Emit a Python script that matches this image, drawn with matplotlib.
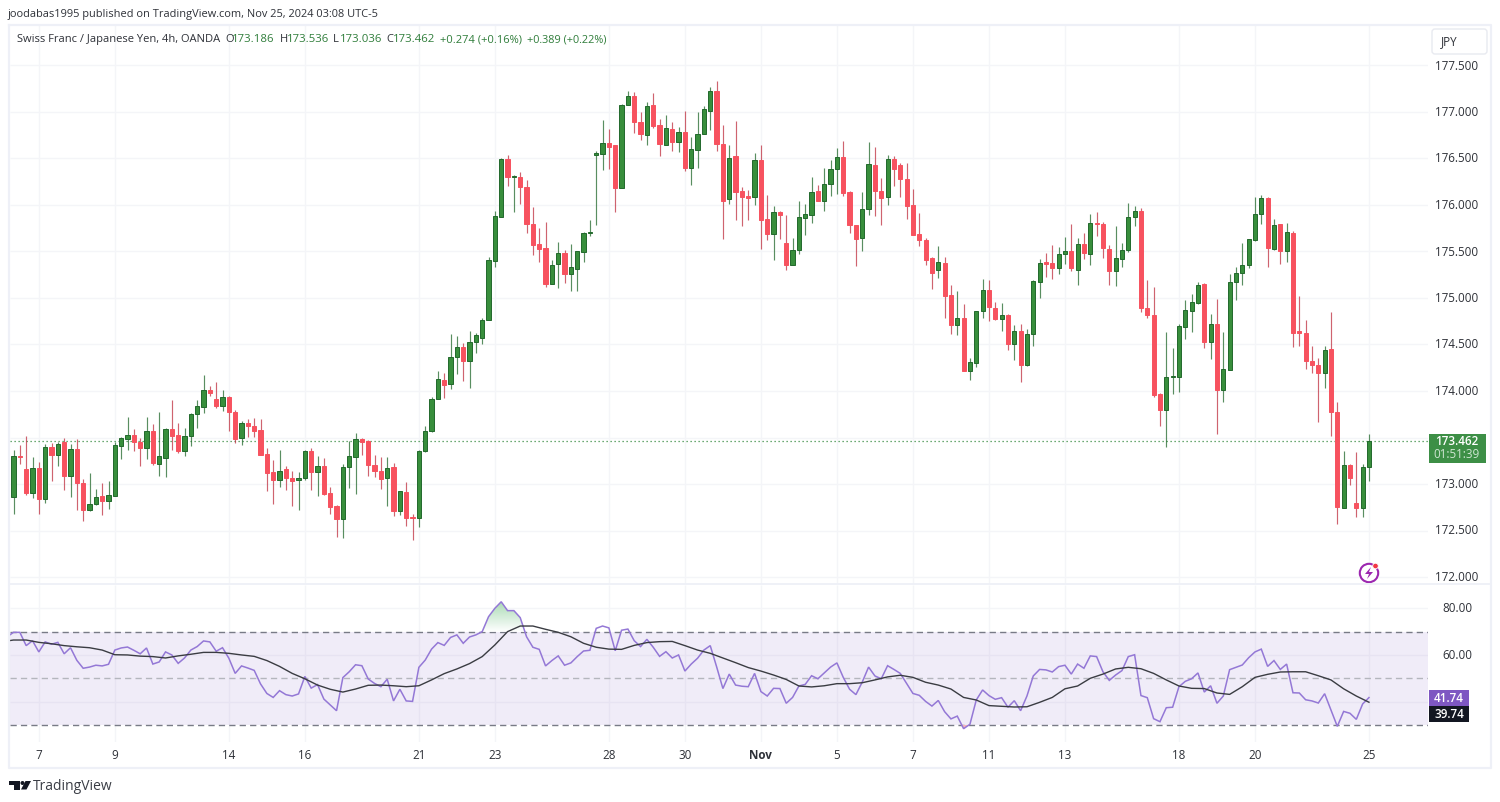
import numpy as np
import matplotlib
matplotlib.use("Agg")
import matplotlib.pyplot as plt
from matplotlib.patches import Polygon, FancyBboxPatch, Rectangle, Circle
from matplotlib.colors import LinearSegmentedColormap

# ---------- data ----------
opens = [
172.86,173.30,173.16,172.90,173.17,172.84,173.40,173.31,173.45,173.09,
173.38,173.01,172.72,172.79,172.87,172.82,172.87,173.41,173.48,173.53,
173.45,173.39,173.57,173.22,173.28,173.59,173.53,173.35,173.52,173.75,
173.83,174.01,173.91,173.84,173.94,173.77,173.49,173.66,173.62,173.58,
173.32,173.13,173.04,173.16,173.06,173.04,173.06,173.35,173.13,173.19,
172.90,172.76,172.62,173.18,173.29,173.48,173.46,173.20,173.14,173.06,
173.18,172.71,172.91,172.64,172.63,173.35,173.57,173.91,174.12,174.08,
174.37,174.47,174.32,174.53,174.57,174.76,175.40,175.87,176.49,176.30,
176.30,176.19,175.80,175.58,175.54,175.15,175.37,175.48,175.26,175.31,
175.49,175.70,176.54,176.55,176.67,176.64,176.18,177.07,177.17,176.89,
176.75,177.07,176.86,176.65,176.82,176.68,176.78,176.40,176.59,176.76,
177.01,177.23,176.66,176.06,176.53,176.15,176.10,176.09,176.48,175.85,
175.69,175.92,175.59,175.36,175.52,175.86,175.89,176.15,176.04,176.23,
176.39,176.52,176.14,175.78,175.64,175.96,176.43,176.15,176.09,176.49,
176.43,176.28,176.00,175.69,175.62,175.43,175.30,175.38,175.03,174.71,
174.79,174.22,174.30,174.86,175.09,174.89,174.77,174.82,174.50,174.65,
174.28,174.61,175.17,175.39,175.38,175.32,175.47,175.51,175.30,175.58,
175.47,175.81,175.80,175.53,175.29,175.42,175.52,175.87,175.94,174.89,
174.82,173.97,173.80,174.15,174.15,174.69,174.86,174.95,175.15,174.53,
174.72,174.01,174.23,175.17,175.27,175.36,175.62,175.90,176.07,175.53,
175.80,175.50,175.70,174.64,174.62,174.32,174.28,174.19,174.45,173.77,
172.74,173.20,172.80,172.74,173.186]
closes = [
173.30,173.29,172.90,173.17,172.84,173.40,173.31,173.43,173.09,173.38,
173.01,172.72,172.79,172.86,172.82,172.88,173.42,173.49,173.53,173.45,
173.39,173.57,173.23,173.30,173.59,173.52,173.35,173.52,173.75,173.84,
174.01,173.98,173.84,173.94,173.77,173.48,173.66,173.62,173.57,173.31,
173.12,173.04,173.14,173.07,173.03,173.06,173.35,173.13,173.19,172.89,
172.75,172.62,173.18,173.30,173.48,173.45,173.20,173.14,173.05,173.17,
172.71,172.93,172.63,172.63,173.36,173.57,173.91,174.13,174.06,174.37,
174.47,174.32,174.53,174.60,174.76,175.41,175.88,176.49,176.30,176.31,
176.19,175.80,175.57,175.53,175.15,175.36,175.48,175.26,175.33,175.50,
175.70,175.71,176.56,176.67,176.62,176.18,177.08,177.17,176.89,176.76,
177.06,176.85,176.66,176.83,176.68,176.78,176.40,176.60,176.76,177.03,
177.23,176.66,176.04,176.51,176.14,176.09,176.07,176.48,175.84,175.69,
175.92,175.89,175.36,175.52,175.87,175.90,176.14,176.04,176.23,176.39,
176.52,176.13,175.78,175.63,175.96,176.44,176.15,176.08,176.49,176.39,
176.28,175.99,175.68,175.62,175.41,175.27,175.39,175.02,174.71,174.78,
174.22,174.31,174.86,175.09,174.90,174.77,174.82,174.51,174.65,174.28,
174.61,175.18,175.38,175.37,175.32,175.47,175.51,175.32,175.58,175.48,
175.81,175.80,175.54,175.29,175.43,175.52,175.87,175.94,174.89,174.82,
173.96,173.80,174.15,174.16,174.70,174.87,174.96,175.14,174.53,174.72,
174.01,174.24,175.17,175.27,175.36,175.63,175.90,176.07,175.54,175.78,
175.51,175.71,174.62,174.62,174.32,174.28,174.19,174.44,173.77,172.75,
173.20,173.06,172.74,173.18,173.462]
highs = [
173.37,173.42,173.52,173.29,173.24,173.43,173.44,173.45,173.50,173.43,
173.48,173.05,173.12,172.95,173.01,173.03,173.45,173.51,173.72,173.59,
173.49,173.72,173.65,173.77,173.60,173.90,173.66,173.60,173.76,173.90,
174.17,174.05,174.10,174.01,173.95,173.80,173.68,173.70,173.71,173.70,
173.39,173.26,173.37,173.19,173.14,173.13,173.37,173.39,173.30,173.28,
172.97,172.77,173.21,173.46,173.55,173.49,173.47,173.31,173.29,173.29,
173.23,172.93,173.02,172.68,173.37,173.62,173.94,174.21,174.19,174.61,
174.59,174.52,174.65,174.62,174.79,175.44,175.93,176.51,176.54,176.32,
176.35,176.27,175.98,175.75,175.82,175.41,175.60,175.52,175.58,175.51,
175.71,175.84,176.58,176.91,176.82,176.65,177.09,177.23,177.22,177.00,
177.11,177.20,176.92,176.97,176.89,176.84,177.01,176.73,177.00,177.06,
177.27,177.33,176.86,176.65,176.90,176.19,176.16,176.56,176.64,176.11,
175.99,175.94,175.89,175.65,176.04,176.01,176.30,176.21,176.40,176.48,
176.61,176.69,176.15,175.78,176.14,176.68,176.62,176.29,176.54,176.53,
176.45,176.45,176.17,175.91,175.65,175.44,175.56,175.44,175.14,175.07,
174.94,174.36,174.86,175.20,175.19,174.96,174.95,174.83,174.71,174.72,
174.67,175.19,175.42,175.48,175.57,175.55,175.66,175.80,175.64,175.70,
175.90,175.92,175.82,175.57,175.77,175.59,176.02,175.99,175.97,175.19,
175.12,173.98,174.63,174.46,174.72,174.98,175.04,175.17,175.16,174.83,
174.99,174.63,175.26,175.33,175.59,175.63,176.09,176.11,176.09,175.85,
175.80,175.81,175.72,175.02,174.76,174.48,174.35,174.48,174.85,173.88,
173.35,173.22,173.34,173.21,173.536]
lows = [
172.68,173.21,172.88,172.85,172.68,172.80,173.03,173.19,172.94,172.86,
172.72,172.60,172.71,172.77,172.67,172.73,172.87,173.27,173.37,173.36,
173.19,173.27,173.20,173.09,173.08,173.37,173.33,173.30,173.41,173.60,
173.76,173.95,173.82,173.78,173.57,173.44,173.42,173.51,173.51,173.31,
172.92,172.79,172.97,172.94,172.76,172.72,173.04,172.94,172.87,172.88,
172.68,172.43,172.42,172.96,172.89,173.31,173.09,173.08,172.95,172.76,
172.66,172.67,172.55,172.40,172.54,173.34,173.56,173.91,173.92,174.02,
174.18,174.11,174.03,174.41,174.51,174.76,175.33,175.87,176.20,175.92,
176.01,175.70,175.46,175.39,175.12,175.15,175.11,175.16,175.08,175.07,
175.39,175.67,175.79,176.38,176.39,175.92,176.18,177.07,176.77,176.70,
176.64,176.83,176.53,176.64,176.58,176.57,176.37,176.21,176.40,176.76,
176.81,176.58,175.63,176.01,175.84,175.77,175.84,176.00,175.53,175.62,
175.41,175.63,175.30,175.35,175.47,175.68,175.81,176.04,175.93,176.10,
176.12,176.10,175.70,175.34,175.50,175.89,175.88,175.78,176.00,176.20,
176.09,175.85,175.68,175.56,175.36,175.10,175.22,174.79,174.61,174.60,
174.21,174.12,174.26,174.79,174.75,174.76,174.65,174.44,174.33,174.10,
174.27,174.48,175.00,175.23,175.20,175.26,175.37,175.29,175.14,175.42,
175.35,175.67,175.43,175.14,175.13,175.33,175.49,175.77,174.85,174.79,
173.94,173.62,173.40,173.97,173.99,174.56,174.63,174.94,174.46,174.34,
173.54,173.88,174.23,174.98,175.14,175.32,175.61,175.80,175.33,175.52,
175.37,175.39,174.47,174.48,174.24,174.19,173.67,174.03,173.52,172.57,
172.74,172.99,172.64,172.65,173.036]

rsi_before_first_bar = 67.8
rsi = [
69.7,69.7,64.0,66.1,61.3,65.6,64.6,65.4,60.5,63.1,
57.7,54.3,54.8,55.6,55.3,56.0,62.1,63.0,63.4,62.0,
60.5,63.0,56.1,57.0,61.3,60.0,56.4,58.7,62.1,63.6,
66.0,65.6,61.6,63.1,58.6,52.1,55.3,54.4,53.4,47.6,
43.5,41.8,44.7,43.0,42.4,43.3,50.8,45.8,47.3,41.1,
38.6,36.1,50.3,52.8,55.8,55.4,49.7,47.8,46.4,49.6,
40.3,45.3,40.3,40.1,54.7,57.8,62.5,65.3,64.1,67.5,
68.6,65.0,67.7,68.6,70.0,76.4,80.0,82.8,79.0,79.0,
76.0,67.8,63.3,62.4,55.3,57.6,59.6,55.6,56.6,59.3,
61.7,62.0,71.4,72.4,71.6,61.8,70.6,71.1,66.1,63.6,
66.7,63.3,59.4,61.4,58.7,60.0,53.1,56.1,58.6,62.1,
64.0,55.0,45.6,51.8,47.1,46.6,46.4,52.1,44.3,42.4,
45.7,45.6,39.3,41.8,46.7,47.4,51.1,49.8,52.3,54.8,
56.6,50.4,45.3,43.0,48.4,54.8,51.0,49.8,55.4,53.8,
52.1,47.8,43.5,42.7,40.1,38.1,40.5,35.7,32.6,33.8,
28.4,30.3,40.7,45.0,42.6,41.0,41.7,37.6,40.4,36.1,
42.4,51.0,53.8,53.6,52.7,55.0,55.6,51.8,56.1,54.3,
59.6,59.3,52.8,49.1,51.4,53.3,59.3,60.1,42.6,41.7,
32.7,31.4,37.4,37.6,46.4,48.7,49.8,52.3,44.1,46.8,
39.3,42.4,53.7,54.7,55.7,58.8,61.3,62.5,55.1,57.6,
53.8,56.1,43.8,43.7,40.8,40.3,39.4,43.4,36.4,29.4,
35.8,35.0,32.4,39.0,41.74]
# RSI moving average, read every second bar (first reading is just left of bar 0)
ma_bars = [-1] + list(range(0, 215, 2))
rsi_ma = [66.0,
66.4,66.4,65.4,64.8,64.0,63.5,63.1,62.1,60.1,60.0,
59.5,59.3,58.7,59.6,60.3,61.1,61.1,60.7,60.0,59.4,
57.6,55.1,52.1,49.8,47.1,45.3,44.1,45.4,47.0,47.1,
46.8,46.4,46.8,49.3,52.0,54.0,56.3,59.3,64.3,70.0,
72.4,72.4,71.0,69.7,67.8,65.0,63.3,62.5,62.4,64.1,
65.3,65.7,65.8,64.0,62.1,60.7,58.7,56.7,54.6,53.1,
51.4,49.5,46.7,46.3,46.8,47.7,47.7,48.1,49.3,50.6,
51.3,50.4,48.3,47.1,45.4,41.8,40.7,38.3,38.0,37.7,
37.8,39.7,41.8,45.5,46.7,50.0,51.8,54.0,54.7,54.1,
52.1,49.3,46.7,45.7,45.6,43.7,43.1,46.4,50.4,51.7,
52.7,52.8,52.8,51.1,49.3,45.5,42.4,39.74]

date_bars = [4,16,34,46,64,76,94,106,118,130,142,154,166,184,196,214]
date_labels = ["7","9","14","16","21","23","28","30","Nov","5","7","11","13","18","20","25"]
price_ticks = [172.0,172.5,173.0,173.5,174.0,174.5,175.0,175.5,176.0,176.5,177.0,177.5]
covered_price_label = 173.5   # hidden behind the last-price tag in the reference
rsi_labels = [80,60]
rsi_grid = [80,60,40]
last_price = 173.462
last_rsi = 41.74
last_ma = 39.74
countdown = "01:51:39"

assert len(opens) == len(closes) == len(highs) == len(lows) == len(rsi)
assert len(ma_bars) == len(rsi_ma), (len(ma_bars), len(rsi_ma))

# ---------- style ----------
W, H = 1500, 802
plt.rcParams["font.family"] = ["Open Sans", "DejaVu Sans"]
UP, UP_EDGE, DOWN, DOWN_WICK = "#388e3c", "#22692c", "#f7525f", "#bf2f3f"
GRID = "#f4f5f8"
BORDER = "#eef0f7"
TXT = "#2e3138"
GREEN_TXT = "#2f7d3a"

def rect(l, t, r, b):
    return [l / W, 1 - b / H, (r - l) / W, (b - t) / H]

fig = plt.figure(figsize=(W / 100, H / 100), dpi=100, facecolor="white")
L, R = 10, 1428
X0, DX = 13.5, 6.334
xlim = ((L - X0) / DX, (R - X0) / DX)

# ---------- price pane ----------
ax = fig.add_axes(rect(L, 25, R, 584))
ax.set_xlim(*xlim)
ax.set_ylim(171.925, 177.935)
x = np.arange(len(opens))
o, h, l, c = map(np.array, (opens, highs, lows, closes))
up = c >= o
ax.hlines(price_ticks, *xlim, color=GRID, lw=1, zorder=0)
ax.vlines(date_bars, 171.9, 178, color=GRID, lw=1, zorder=0)
ax.axhline(last_price, color="#3d8f46", lw=0.9, ls=(0, (1, 2.2)), zorder=1)
ax.vlines(x[up], l[up], h[up], color=UP_EDGE, lw=0.85, zorder=2, alpha=0.75)
ax.vlines(x[~up], l[~up], h[~up], color=DOWN_WICK, lw=0.85, zorder=2, alpha=0.75)
ax.bar(x[up], c[up] - o[up], bottom=o[up], width=0.66, color=UP, edgecolor=UP_EDGE, lw=0.7, zorder=3)
ax.bar(x[~up], o[~up] - c[~up], bottom=c[~up], width=0.66, color=DOWN, edgecolor=DOWN, lw=0.7, zorder=3)
ax.axis("off")

# ---------- RSI pane ----------
ar = fig.add_axes(rect(L, 585, R, 742))
ar.set_xlim(*xlim)
ar.set_ylim(22.7, 89.98)
ar.hlines(rsi_grid, *xlim, color=GRID, lw=1, zorder=0)
ar.vlines(date_bars, 22, 90, color=GRID, lw=1, zorder=0)
ar.axhspan(30, 70, color="#7e57c2", alpha=0.11, lw=0, zorder=1)
ar.hlines([70, 30], *xlim, color="#787b86", lw=1, ls=(0, (4.5, 3)), zorder=2)
ar.hlines([50], *xlim, color="#b4b6bd", lw=1, ls=(0, (4.5, 3)), zorder=2)
rx = np.arange(-1, len(rsi))
ry = np.array([rsi_before_first_bar] + rsi)
cmap = LinearSegmentedColormap.from_list("g", ["#ffffff", "#a9dab4"])
fb = ar.fill_between(rx, 70, ry, where=ry >= 70, interpolate=True, color="none", lw=0, zorder=2)
im = ar.imshow(np.linspace(1, 0, 64).reshape(-1, 1), cmap=cmap, aspect="auto",
               extent=(xlim[0], xlim[1], 70, 83), zorder=2, vmin=0, vmax=1)
im.set_clip_path(fb.get_paths()[0], transform=ar.transData)
ar.set_xlim(*xlim)
ar.set_ylim(22.7, 89.98)
ar.fill_between(rx, 30, ry, where=ry <= 30, interpolate=True, color="#f7b5bb", lw=0, zorder=2)
ar.plot(rx, ry, color="#9478d6", lw=1.1, zorder=4, solid_joinstyle="miter")
ar.plot(ma_bars, rsi_ma, color="#3a3c42", lw=1.0, zorder=5)
ar.axis("off")

# ---------- overlay: frame, labels ----------
ov = fig.add_axes([0, 0, 1, 1], facecolor="none")
ov.set_xlim(0, W)
ov.set_ylim(H, 0)
ov.axis("off")
ov.set_zorder(10)

def tx(xp, yp, s, **k):
    k.setdefault("fontsize", 8.4)
    k.setdefault("color", TXT)
    k.setdefault("va", "center")
    k.setdefault("zorder", 20)
    return ov.text(xp, yp, s, **k)

ov.plot([9, 1491, 1491, 9, 9], [25, 25, 768, 768, 25], color=BORDER, lw=1.6)
ov.plot([9, 1491], [584, 584], color=BORDER, lw=1.3)

for p in price_ticks:
    if p != covered_price_label:
        tx(1457, 577.5 - (p - 172) * 93, f"{p:.3f}", ha="center")
for v in rsi_labels:
    tx(1457, 608.8 + (80 - v) * 2.334, f"{v:.2f}", ha="center")
for b, s in zip(date_bars, date_labels):
    tx(X0 + DX * b, 755.5, s, ha="center", fontweight="bold" if s == "Nov" else "normal")

ov.add_patch(Rectangle((1429, 433.5), 57, 29, color="#3d8f46", lw=0))
tx(1457, 441.5, f"{last_price:.3f}", ha="center", color="white", fontweight="semibold")
tx(1457, 455, countdown, ha="center", color="#cfe6d2")
ov.add_patch(Rectangle((1429, 689.5), 40, 16.5, color="#7e57c2", lw=0))
ov.add_patch(Rectangle((1429, 706), 40, 16, color="#131722", lw=0))
tx(1449, 698, f"{last_rsi:.2f}", ha="center", color="white", fontweight="semibold")
tx(1449, 714, f"{last_ma:.2f}", ha="center", color="white", fontweight="semibold")

ov.add_patch(FancyBboxPatch((1432, 29), 55, 25, boxstyle="round,pad=0,rounding_size=3",
                            fc="white", ec="#e8eaf0", lw=1))
tx(1441, 42, "JPY", ha="left")

# header
tx(8, 14, "joodabas1995 published on TradingView.com, Nov 25, 2024 03:08 UTC-5", fontsize=7.9)
tx(17, 39.5, "Swiss Franc / Japanese Yen, 4h, OANDA", fontsize=8.0)
for xp, key, val in [(225, "O", "173.186"), (279.5, "H", "173.536"), (333, "L", "173.036"), (386, "C", "173.462")]:
    tx(xp, 39.5, key, fontsize=8.0)
    tx(xp + 7, 39.5, val, fontsize=8.2, color=GREEN_TXT)
tx(439.5, 39.5, "+0.274 (+0.16%)", fontsize=8.0, color=GREEN_TXT)
tx(527, 39.5, "+0.389 (+0.22%)", fontsize=7.8, color=GREEN_TXT)

# lightning badge
ov.add_patch(Circle((1369, 573), 9.2, fc="white", ec="#9c27b0", lw=1.5))
ov.add_patch(Polygon([(1371, 567), (1365, 574), (1369, 574), (1367, 579), (1373, 572), (1369, 572)],
                     closed=True, fc="#9c27b0", lw=0))
ov.add_patch(Circle((1375.5, 566), 2.8, fc="#f23645", ec="white", lw=0.6))

# TradingView footer
ov.add_patch(Polygon([(9, 781), (19.5, 781), (19.5, 789.5), (14, 789.5), (14, 785), (9, 785)], closed=True, fc="#131722", lw=0))
ov.add_patch(Circle((22.5, 783), 2, fc="#131722", lw=0))
ov.add_patch(Polygon([(25.5, 781), (31, 781), (26.5, 789.5), (21, 789.5)], closed=True, fc="#131722", lw=0))
tx(32.5, 786, "TradingView", fontsize=10, color="#3a3d45")

fig.savefig("out.png", dpi=100, facecolor="white")
